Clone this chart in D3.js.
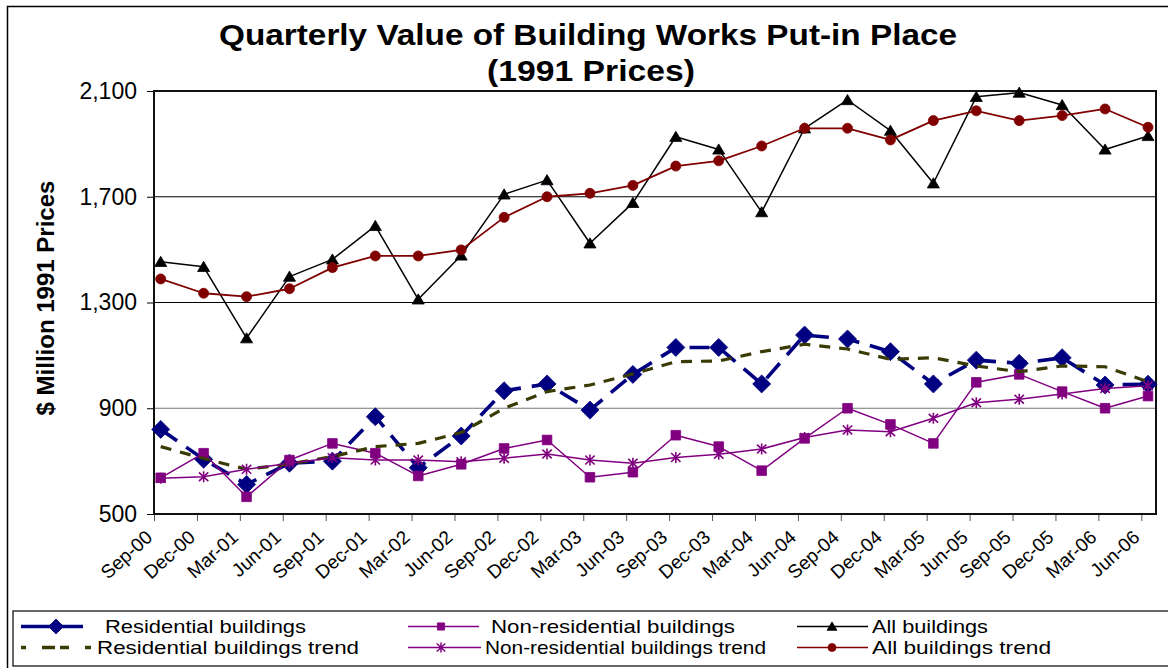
<!DOCTYPE html>
<html>
<head>
<meta charset="utf-8">
<script src="https://cdn.jsdelivr.net/npm/d3@7/dist/d3.min.js"></script>
<style>
  html, body { margin: 0; padding: 0; background: #fff; }
  svg { display: block; font-family: "Liberation Sans", Arial, sans-serif; }
</style>
</head>
<body>
<svg id="chart" width="1168" height="668"></svg>
<script>
// Quarter labels
const categories = ["Sep-00","Dec-00","Mar-01","Jun-01","Sep-01","Dec-01","Mar-02","Jun-02",
  "Sep-02","Dec-02","Mar-03","Jun-03","Sep-03","Dec-03","Mar-04","Jun-04",
  "Sep-04","Dec-04","Mar-05","Jun-05","Sep-05","Dec-05","Mar-06","Jun-06"];

// $ million, 1991 prices
const residential = [820,707,612,692,700,868,675,795,966,992,893,1028,1130,1130,992,1177,1162,1114,992,1082,1070,1091,988,991];
const nonResidential = [637,730,565,704,767,730,644,688,748,780,639,658,798,755,664,786,900,839,767,998,1028,963,900,946];
const allBuildings = [1454,1435,1165,1398,1463,1590,1312,1478,1709,1763,1524,1677,1927,1879,1642,1959,2066,1950,1751,2078,2094,2047,1879,1930];
const residentialTrend = [755,710,669,689,717,755,767,808,900,963,988,1030,1076,1079,1114,1142,1124,1085,1091,1060,1038,1060,1057,1000];
const nonResidentialTrend = [635,641,669,692,713,704,704,698,711,727,704,692,714,726,746,789,818,811,862,921,934,954,975,985];
const allBuildingsTrend = [1389,1335,1322,1352,1432,1476,1476,1499,1622,1700,1713,1743,1816,1836,1892,1959,1959,1915,1988,2025,1988,2007,2032,1963];

const yTicks = [500, 900, 1300, 1700, 2100];

const svg = d3.select("#chart");
const plot = { left: 154, right: 1156, top: 91, bottom: 514 };

const x = d3.scalePoint().domain(categories).range([160.7, 1148]);
const y = d3.scaleLinear().domain([500, 2100]).range([plot.bottom, plot.top]);

// outer chart border
svg.append("path")
  .attr("d", "M7.5,668 L7.5,6.5 L1168,6.5")
  .attr("fill", "none").attr("stroke", "#000").attr("stroke-width", 1.5);

// title
const title = svg.append("text")
  .attr("text-anchor", "middle").attr("font-weight", "bold").attr("font-size", 29).attr("fill", "#000");
title.append("tspan").attr("x", 588).attr("y", 45)
  .attr("textLength", 738).attr("lengthAdjust", "spacingAndGlyphs")
  .text("Quarterly Value of Building Works Put-in Place");
title.append("tspan").attr("x", 591).attr("y", 81)
  .attr("textLength", 208).attr("lengthAdjust", "spacingAndGlyphs")
  .text("(1991 Prices)");

// y axis title
svg.append("text")
  .attr("transform", "translate(54,298) rotate(-90)")
  .attr("text-anchor", "middle").attr("font-weight", "bold").attr("font-size", 24)
  .text("$ Million 1991 Prices");

// gridlines
svg.append("g").selectAll("line")
  .data(yTicks.filter(v => v > 500 && v < 2100))
  .join("line")
  .attr("x1", plot.left).attr("x2", plot.right)
  .attr("y1", d => y(d)).attr("y2", d => y(d))
  .attr("stroke", d => d === 900 ? "#777" : "#000").attr("stroke-width", 1.2);

// y axis
const yAxis = svg.append("g")
  .attr("transform", `translate(${plot.left},0)`)
  .call(d3.axisLeft(y).tickValues(yTicks).tickFormat(d3.format(",")).tickSize(7).tickSizeOuter(0).tickPadding(10));
yAxis.select(".domain").remove();
yAxis.selectAll(".tick line").attr("stroke", "#000");
yAxis.selectAll(".tick text").attr("font-size", 23).attr("fill", "#000")
  .attr("font-family", "'Liberation Sans', Arial, sans-serif");

// x axis: ticks sit just left of each quarter's point
const xOffset = -6.7;
const xAxis = svg.append("g")
  .attr("transform", `translate(${xOffset},${plot.bottom})`)
  .call(d3.axisBottom(x).tickSize(7).tickSizeOuter(0));
xAxis.select(".domain").remove();
xAxis.selectAll(".tick line").attr("stroke", "#555");
xAxis.selectAll(".tick text")
  .attr("font-size", 19).attr("fill", "#000")
  .attr("font-family", "'Liberation Sans', Arial, sans-serif")
  .attr("text-anchor", "end")
  .attr("y", 0).attr("dy", 0)
  .attr("transform", "translate(-1,25) rotate(-42)");

// plot frame
svg.append("rect")
  .attr("x", plot.left).attr("y", plot.top)
  .attr("width", plot.right - plot.left).attr("height", plot.bottom - plot.top)
  .attr("fill", "none").attr("stroke", "#111").attr("stroke-width", 2);

// marker shapes
const markers = {
  diamond: r => `M0,${-r}L${r},0L0,${r}L${-r},0Z`,
  square: r => `M${-r},${-r}H${r}V${r}H${-r}Z`,
  triangle: r => `M0,${-r}L${r * 1.1},${r * 0.85}L${-r * 1.1},${r * 0.85}Z`,
  circle: r => `M${r},0A${r},${r} 0 1,1 ${-r},0A${r},${r} 0 1,1 ${r},0Z`,
  star: r => `M0,${-r}V${r}M${-r * 0.85},${-r * 0.8}L${r * 0.85},${r * 0.8}M${r * 0.85},${-r * 0.8}L${-r * 0.85},${r * 0.8}`
};

const series = [
  { name: "Residential buildings", values: residential, color: "#000080", width: 3.6, dash: "20,11", marker: "diamond", size: 9, legendSize: 7.5, legendDash: null },
  { name: "Non-residential buildings", values: nonResidential, color: "#800080", width: 1.5, dash: null, marker: "square", size: 4.8, legendSize: 3.6 },
  { name: "All buildings", values: allBuildings, color: "#000", width: 1.5, dash: null, marker: "triangle", size: 5.5, legendSize: 4.5 },
  { name: "Residential buildings trend", values: residentialTrend, color: "#3a3a05", width: 3.2, dash: "11,9", marker: null, legendDash: "5,16,13,5,9,16,6" },
  { name: "Non-residential buildings trend", values: nonResidentialTrend, color: "#800080", width: 1.5, dash: null, marker: "star", size: 5.5, legendSize: 5 },
  { name: "All buildings trend", values: allBuildingsTrend, color: "#800000", width: 1.8, dash: null, marker: "circle", size: 5, legendSize: 4 }
];

const line = d3.line().x((d, i) => x(categories[i])).y(d => y(d));

series.forEach(s => {
  const g = svg.append("g");
  g.append("path")
    .attr("d", line(s.values))
    .attr("fill", "none")
    .attr("stroke", s.color)
    .attr("stroke-width", s.width)
    .attr("stroke-dasharray", s.dash)
    .attr("stroke-linejoin", "round");
  if (s.marker) {
    g.selectAll("path.m")
      .data(s.values)
      .join("path")
      .attr("class", "m")
      .attr("transform", (d, i) => `translate(${x(categories[i])},${y(d)})`)
      .attr("d", markers[s.marker](s.size))
      .attr("fill", s.marker === "star" ? "none" : s.color)
      .attr("stroke", s.color)
      .attr("stroke-width", s.marker === "star" ? 1.6 : 0.8);
  }
});

// legend
svg.append("rect")
  .attr("x", 13).attr("y", 611).attr("width", 1160).attr("height", 55)
  .attr("fill", "#fff").attr("stroke", "#000").attr("stroke-width", 1.2);

// legend slots: sample line span, marker position, text start and text width
const legendSlots = [
  { x1: 21, x2: 83, mx: 56, tx: 105, tw: 201 },
  { x1: 408, x2: 479, mx: 441, tx: 491, tw: 244 },
  { x1: 797, x2: 868, mx: 832, tx: 872, tw: 116 },
  { x1: 21, x2: 91, mx: 53, tx: 97, tw: 262 },
  { x1: 408, x2: 481, mx: 441, tx: 485, tw: 281 },
  { x1: 797, x2: 868, mx: 832, tx: 872, tw: 179 }
];
const rowY = [626.5, 647.5];

series.forEach((s, i) => {
  const row = Math.floor(i / 3);
  const c = legendSlots[i];
  const ly = rowY[row];
  const g = svg.append("g");
  g.append("line")
    .attr("x1", c.x1).attr("x2", c.x2).attr("y1", ly).attr("y2", ly)
    .attr("stroke", s.color)
    .attr("stroke-width", s.marker === "diamond" ? 3.5 : (s.dash ? 3.6 : 1.6))
    .attr("stroke-dasharray", s.legendDash || null);
  if (s.marker) {
    g.append("path")
      .attr("transform", `translate(${c.mx},${ly})`)
      .attr("d", markers[s.marker](s.legendSize))
      .attr("fill", s.marker === "star" ? "none" : s.color)
      .attr("stroke", s.color).attr("stroke-width", s.marker === "star" ? 1.5 : 0.8);
  }
  g.append("text")
    .attr("x", c.tx).attr("y", ly + 6.5)
    .attr("font-size", 18.5).attr("fill", "#000")
    .attr("textLength", c.tw).attr("lengthAdjust", "spacingAndGlyphs")
    .text(s.name);
});
</script>
</body>
</html>
